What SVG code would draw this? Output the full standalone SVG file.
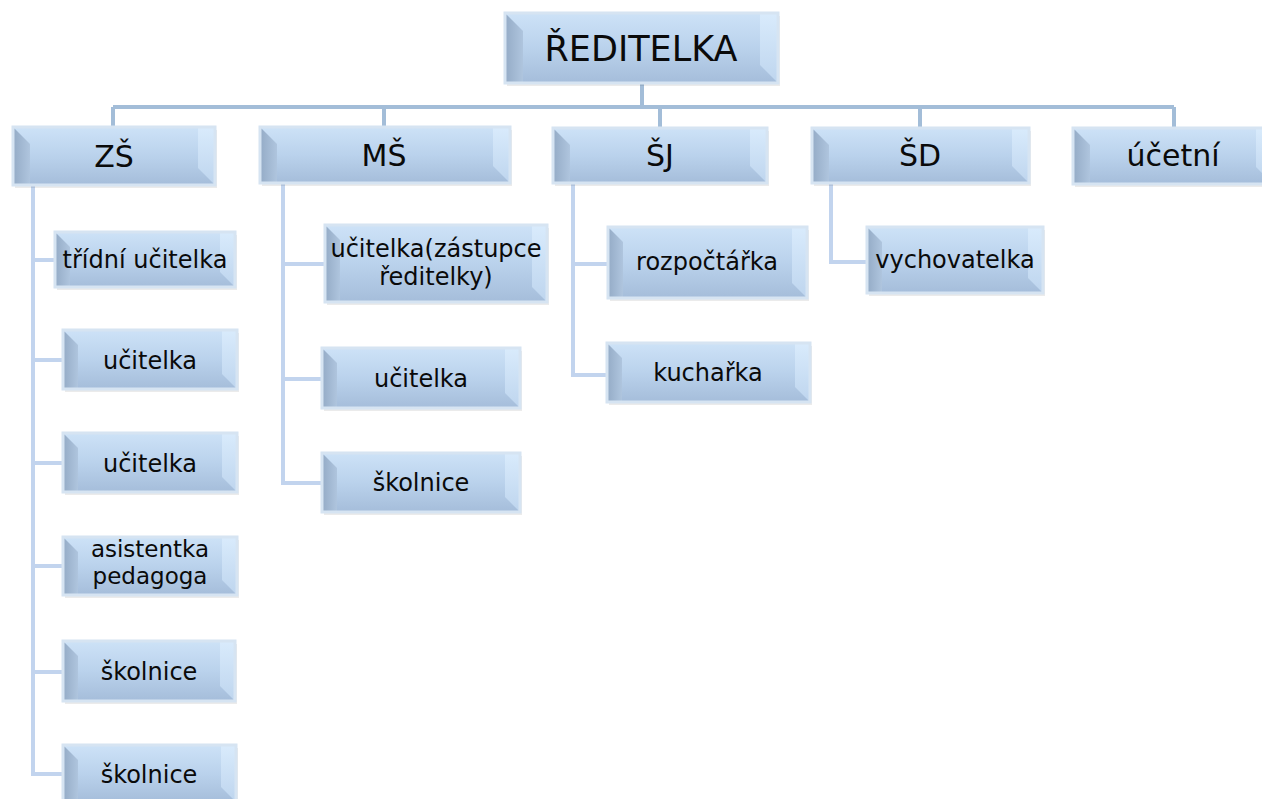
<svg xmlns="http://www.w3.org/2000/svg" width="1262" height="799" viewBox="0 0 1262 799">
<defs>
<linearGradient id="gMain" x1="0" y1="0" x2="0" y2="1">
<stop offset="0" stop-color="#cde2f7"/>
<stop offset="0.5" stop-color="#bad2ec"/>
<stop offset="1" stop-color="#a5bdda"/>
</linearGradient>
<linearGradient id="gLeft" x1="0" y1="0" x2="1" y2="0">
<stop offset="0" stop-color="#94abc6"/>
<stop offset="1" stop-color="#afc5de"/>
</linearGradient>
<linearGradient id="gRight" x1="0" y1="0" x2="0" y2="1">
<stop offset="0" stop-color="#d9ebfc"/>
<stop offset="1" stop-color="#bed5ee"/>
</linearGradient>
</defs>
<style>
.bg{fill:url(#gMain)}
.lb{fill:url(#gLeft)}
.rb{fill:url(#gRight)}
.bd{fill:none;stroke:#d6e4f2;stroke-width:3}
.sh{fill:#000;opacity:0.08}
.t{font-family:"DejaVu Sans","Noto Sans",sans-serif;fill:#0a0a0a;text-anchor:middle}
.t1{font-size:35px}
.t2{font-size:30px}
.t3{font-size:24px}
.t4{font-size:23px}
.c1{fill:none;stroke:#a3bdd8;stroke-width:4}
.c2{fill:none;stroke:#c2d4ee;stroke-width:4}
</style>
<rect width="1262" height="799" fill="#ffffff"/>
<g id="connectors">
<path class="c1" d="M642,83 V107 M113,107 H1174 M113,107 V127 M384,107 V127 M660,107 V128 M920,107 V128 M1174,107 V128"/>
<path class="c2" d="M33,185 V774 M33,260 H55 M33,360 H63 M33,463 H63 M33,566 H63 M33,672 H63 M31,774 H63"/>
<path class="c2" d="M283,183 V483 M283,264 H325 M283,379 H322 M281,483 H322"/>
<path class="c2" d="M573,183 V375 M573,264 H608 M571,375 H607"/>
<path class="c2" d="M831,183 V262 M829,262 H867"/>
</g>
<g id="n-reditelka">
<rect class="sh" x="507" y="16" width="273" height="70"/>
<rect class="bg" x="505" y="13" width="273" height="70"/>
<polygon class="lb" points="505,13 523,31 523,83 505,83"/>
<polygon class="rb" points="778,13 778,83 760,65 760,13"/>
<rect class="bd" x="505" y="13" width="273" height="70"/>
<text class="t t1" x="641" y="61">ŘEDITELKA</text>
</g>
<g id="n-zs">
<rect class="sh" x="15" y="130" width="202" height="58"/>
<rect class="bg" x="13" y="127" width="202" height="58"/>
<polygon class="lb" points="13,127 30,144 30,185 13,185"/>
<polygon class="rb" points="215,127 215,185 198,168 198,127"/>
<rect class="bd" x="13" y="127" width="202" height="58"/>
<text class="t t2" x="114" y="167">ZŠ</text>
</g>
<g id="n-ms">
<rect class="sh" x="262" y="130" width="250" height="56"/>
<rect class="bg" x="260" y="127" width="250" height="56"/>
<polygon class="lb" points="260,127 277,144 277,183 260,183"/>
<polygon class="rb" points="510,127 510,183 493,166 493,127"/>
<rect class="bd" x="260" y="127" width="250" height="56"/>
<text class="t t2" x="384" y="166">MŠ</text>
</g>
<g id="n-sj">
<rect class="sh" x="555" y="131" width="214" height="55"/>
<rect class="bg" x="553" y="128" width="214" height="55"/>
<polygon class="lb" points="553,128 570,145 570,183 553,183"/>
<polygon class="rb" points="767,128 767,183 750,166 750,128"/>
<rect class="bd" x="553" y="128" width="214" height="55"/>
<text class="t t2" x="660" y="166">ŠJ</text>
</g>
<g id="n-sd">
<rect class="sh" x="814" y="131" width="217" height="55"/>
<rect class="bg" x="812" y="128" width="217" height="55"/>
<polygon class="lb" points="812,128 829,145 829,183 812,183"/>
<polygon class="rb" points="1029,128 1029,183 1012,166 1012,128"/>
<rect class="bd" x="812" y="128" width="217" height="55"/>
<text class="t t2" x="920" y="166">ŠD</text>
</g>
<g id="n-ucetni">
<rect class="sh" x="1075" y="131" width="200" height="56"/>
<rect class="bg" x="1073" y="128" width="200" height="56"/>
<polygon class="lb" points="1073,128 1090,145 1090,184 1073,184"/>
<polygon class="rb" points="1273,128 1273,184 1256,167 1256,128"/>
<rect class="bd" x="1073" y="128" width="200" height="56"/>
<text class="t t2" x="1173" y="166">účetní</text>
</g>
<g id="n-tridni">
<rect class="sh" x="57" y="235" width="180" height="55"/>
<rect class="bg" x="55" y="232" width="180" height="55"/>
<polygon class="lb" points="55,232 70,247 70,287 55,287"/>
<polygon class="rb" points="235,232 235,287 220,272 220,232"/>
<rect class="bd" x="55" y="232" width="180" height="55"/>
<text class="t t3" x="145" y="268">třídní učitelka</text>
</g>
<g id="n-zs-ucitelka1">
<rect class="sh" x="65" y="333" width="174" height="59"/>
<rect class="bg" x="63" y="330" width="174" height="59"/>
<polygon class="lb" points="63,330 78,345 78,389 63,389"/>
<polygon class="rb" points="237,330 237,389 222,374 222,330"/>
<rect class="bd" x="63" y="330" width="174" height="59"/>
<text class="t t3" x="150" y="369">učitelka</text>
</g>
<g id="n-zs-ucitelka2">
<rect class="sh" x="65" y="436" width="174" height="59"/>
<rect class="bg" x="63" y="433" width="174" height="59"/>
<polygon class="lb" points="63,433 78,448 78,492 63,492"/>
<polygon class="rb" points="237,433 237,492 222,477 222,433"/>
<rect class="bd" x="63" y="433" width="174" height="59"/>
<text class="t t3" x="150" y="472">učitelka</text>
</g>
<g id="n-asistentka">
<rect class="sh" x="65" y="540" width="174" height="58"/>
<rect class="bg" x="63" y="537" width="174" height="58"/>
<polygon class="lb" points="63,537 78,552 78,595 63,595"/>
<polygon class="rb" points="237,537 237,595 222,580 222,537"/>
<rect class="bd" x="63" y="537" width="174" height="58"/>
<text class="t t4" x="150" y="557">asistentka</text>
<text class="t t4" x="150" y="584">pedagoga</text>
</g>
<g id="n-zs-skolnice1">
<rect class="sh" x="65" y="644" width="172" height="60"/>
<rect class="bg" x="63" y="641" width="172" height="60"/>
<polygon class="lb" points="63,641 78,656 78,701 63,701"/>
<polygon class="rb" points="235,641 235,701 220,686 220,641"/>
<rect class="bd" x="63" y="641" width="172" height="60"/>
<text class="t t3" x="149" y="680">školnice</text>
</g>
<g id="n-zs-skolnice2">
<rect class="sh" x="65" y="748" width="173" height="57"/>
<rect class="bg" x="63" y="745" width="173" height="57"/>
<polygon class="lb" points="63,745 78,760 78,802 63,802"/>
<polygon class="rb" points="236,745 236,802 221,787 221,745"/>
<rect class="bd" x="63" y="745" width="173" height="57"/>
<text class="t t3" x="149" y="783">školnice</text>
</g>
<g id="n-zastupce">
<rect class="sh" x="327" y="228" width="222" height="77"/>
<rect class="bg" x="325" y="225" width="222" height="77"/>
<polygon class="lb" points="325,225 340,240 340,302 325,302"/>
<polygon class="rb" points="547,225 547,302 532,287 532,225"/>
<rect class="bd" x="325" y="225" width="222" height="77"/>
<text class="t t3" x="436" y="257">učitelka(zástupce</text>
<text class="t t3" x="436" y="285">ředitelky)</text>
</g>
<g id="n-ms-ucitelka">
<rect class="sh" x="324" y="351" width="198" height="60"/>
<rect class="bg" x="322" y="348" width="198" height="60"/>
<polygon class="lb" points="322,348 337,363 337,408 322,408"/>
<polygon class="rb" points="520,348 520,408 505,393 505,348"/>
<rect class="bd" x="322" y="348" width="198" height="60"/>
<text class="t t3" x="421" y="387">učitelka</text>
</g>
<g id="n-ms-skolnice">
<rect class="sh" x="324" y="456" width="198" height="59"/>
<rect class="bg" x="322" y="453" width="198" height="59"/>
<polygon class="lb" points="322,453 337,468 337,512 322,512"/>
<polygon class="rb" points="520,453 520,512 505,497 505,453"/>
<rect class="bd" x="322" y="453" width="198" height="59"/>
<text class="t t3" x="421" y="491">školnice</text>
</g>
<g id="n-rozpoctarka">
<rect class="sh" x="610" y="230" width="199" height="71"/>
<rect class="bg" x="608" y="227" width="199" height="71"/>
<polygon class="lb" points="608,227 623,242 623,298 608,298"/>
<polygon class="rb" points="807,227 807,298 792,283 792,227"/>
<rect class="bd" x="608" y="227" width="199" height="71"/>
<text class="t t3" x="707" y="270">rozpočtářka</text>
</g>
<g id="n-kucharka">
<rect class="sh" x="609" y="346" width="203" height="59"/>
<rect class="bg" x="607" y="343" width="203" height="59"/>
<polygon class="lb" points="607,343 622,358 622,402 607,402"/>
<polygon class="rb" points="810,343 810,402 795,387 795,343"/>
<rect class="bd" x="607" y="343" width="203" height="59"/>
<text class="t t3" x="708" y="381">kuchařka</text>
</g>
<g id="n-vychovatelka">
<rect class="sh" x="869" y="230" width="176" height="66"/>
<rect class="bg" x="867" y="227" width="176" height="66"/>
<polygon class="lb" points="867,227 882,242 882,293 867,293"/>
<polygon class="rb" points="1043,227 1043,293 1028,278 1028,227"/>
<rect class="bd" x="867" y="227" width="176" height="66"/>
<text class="t t3" x="955" y="268">vychovatelka</text>
</g>
</svg>
